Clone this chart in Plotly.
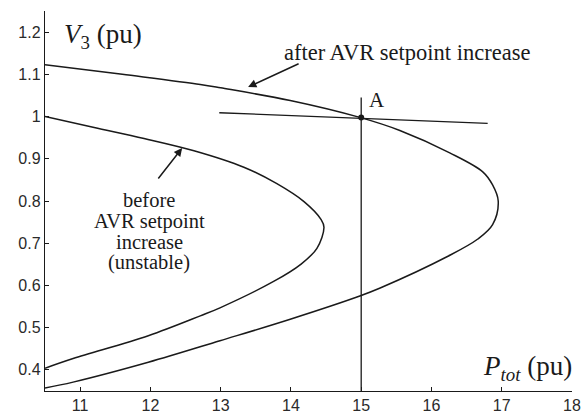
import plotly.graph_objects as go

# "after AVR setpoint increase" P-V curve
after_P = [10.5, 11.6, 12.71, 13.0, 13.99, 14.98, 15.55, 16.26, 16.73, 16.87, 16.95, 16.87, 16.66, 16.22, 15.27, 14.98, 13.99, 12.99, 11.97, 10.9, 10.5]
after_V = [1.123, 1.100, 1.076, 1.068, 1.038, 0.998, 0.967, 0.914, 0.869, 0.838, 0.80, 0.744, 0.710, 0.668, 0.594, 0.575, 0.52, 0.469, 0.418, 0.371, 0.357]

# "before AVR setpoint increase" P-V curve
before_P = [10.5, 11.2, 11.91, 12.62, 13.33, 13.80, 14.19, 14.43, 14.47, 14.37, 14.14, 13.76, 12.99, 12.71, 11.97, 10.9, 10.5]
before_V = [1.0, 0.974, 0.948, 0.919, 0.880, 0.841, 0.798, 0.756, 0.738, 0.688, 0.650, 0.610, 0.547, 0.528, 0.481, 0.427, 0.404]

# load characteristic through A and constant-power line
load_P = [12.98, 16.80]
load_V = [1.009, 0.984]
ptot_P = [15.0, 15.0]
ptot_V = [1.045, 0.35]
pointA_P = [15.0]
pointA_V = [0.998]

x_ticks = [11, 12, 13, 14, 15, 16, 17, 18]
y_ticks = [0.4, 0.5, 0.6, 0.7, 0.8, 0.9, 1.0, 1.1, 1.2]
y_ticktext = ["0.4", "0.5", "0.6", "0.7", "0.8", "0.9", "1", "1.1", "1.2"]

before_lines = ["before", "AVR setpoint", "increase", "(unstable)"]

LC = "#1a1a1a"
fig = go.Figure()
for xs, ys in [(after_P, after_V), (before_P, before_V)]:
    fig.add_trace(go.Scatter(x=xs, y=ys, mode="lines",
                             line=dict(color=LC, width=1.5, shape="spline", smoothing=1.0),
                             showlegend=False, hoverinfo="skip"))
fig.add_trace(go.Scatter(x=load_P, y=load_V, mode="lines", line=dict(color=LC, width=1.3),
                         showlegend=False))
fig.add_trace(go.Scatter(x=ptot_P, y=ptot_V, mode="lines", line=dict(color=LC, width=1.3),
                         showlegend=False))
fig.add_trace(go.Scatter(x=pointA_P, y=pointA_V, mode="markers",
                         marker=dict(color=LC, size=6), showlegend=False))

serif = "Liberation Serif, Times New Roman, serif"


def px2x(px):
    return 14.5 + (px - 326) / 70.3


def py2y(py):
    return 0.8 - (py - 201) / 422.5


def ppx(px):
    return (px - 45) / 527.0


def ppy(py):
    return (391 - py) / 380.0


annotations = [
    dict(x=px2x(377), y=py2y(100), text="A", showarrow=False,
         font=dict(family=serif, size=21, color=LC)),
    dict(x=px2x(407), y=py2y(52), text="after AVR setpoint increase", showarrow=False,
         font=dict(family=serif, size=22.5, color=LC)),
    dict(x=px2x(248), y=py2y(87), ax=52, ay=-24, text="", showarrow=True,
         arrowhead=2, arrowsize=1.1, arrowwidth=1.5, arrowcolor=LC),
    dict(x=px2x(182), y=py2y(148), ax=-25, ay=32, text="", showarrow=True,
         arrowhead=2, arrowsize=1.1, arrowwidth=1.5, arrowcolor=LC),
    dict(xref="paper", yref="paper", x=ppx(62), y=ppy(36),
         text="<i>V</i><sub>3</sub> (pu)", showarrow=False,
         xanchor="left", yanchor="middle", font=dict(family=serif, size=27, color=LC)),
    dict(xref="paper", yref="paper", x=ppx(574), y=ppy(368),
         text="<i>P<sub>tot</sub></i> (pu)", showarrow=False,
         xanchor="right", yanchor="middle", font=dict(family=serif, size=27, color=LC)),
]
for txt, yy in zip(before_lines, [200, 222, 242, 263]):
    annotations.append(dict(x=px2x(149), y=py2y(yy), text=txt, showarrow=False,
                            xanchor="center", yanchor="middle",
                            font=dict(family=serif, size=20.5, color=LC)))

tickfont = dict(family="Liberation Sans, Arial, sans-serif", size=16, color="#2a2a2a")
fig.update_layout(
    width=582, height=416,
    margin=dict(l=45, r=10, t=11, b=25),
    paper_bgcolor="white", plot_bgcolor="white",
    annotations=annotations,
    xaxis=dict(range=[10.5, 18], tickvals=x_ticks, ticks="inside", ticklen=4,
               tickcolor=LC, showline=True, linecolor=LC, linewidth=1.4,
               showgrid=False, zeroline=False, tickfont=tickfont, automargin=False,
               ticklabeloverflow="allow"),
    yaxis=dict(range=[0.35, 1.25], tickvals=y_ticks, ticktext=y_ticktext, ticks="inside",
               ticklen=4, tickcolor=LC, showline=True, linecolor=LC, linewidth=1.4,
               showgrid=False, zeroline=False, tickfont=tickfont, automargin=False),
)
fig.write_html("out.html", config={"displayModeBar": False},
               post_script="document.body.style.margin='0';document.body.style.overflow='hidden';")
